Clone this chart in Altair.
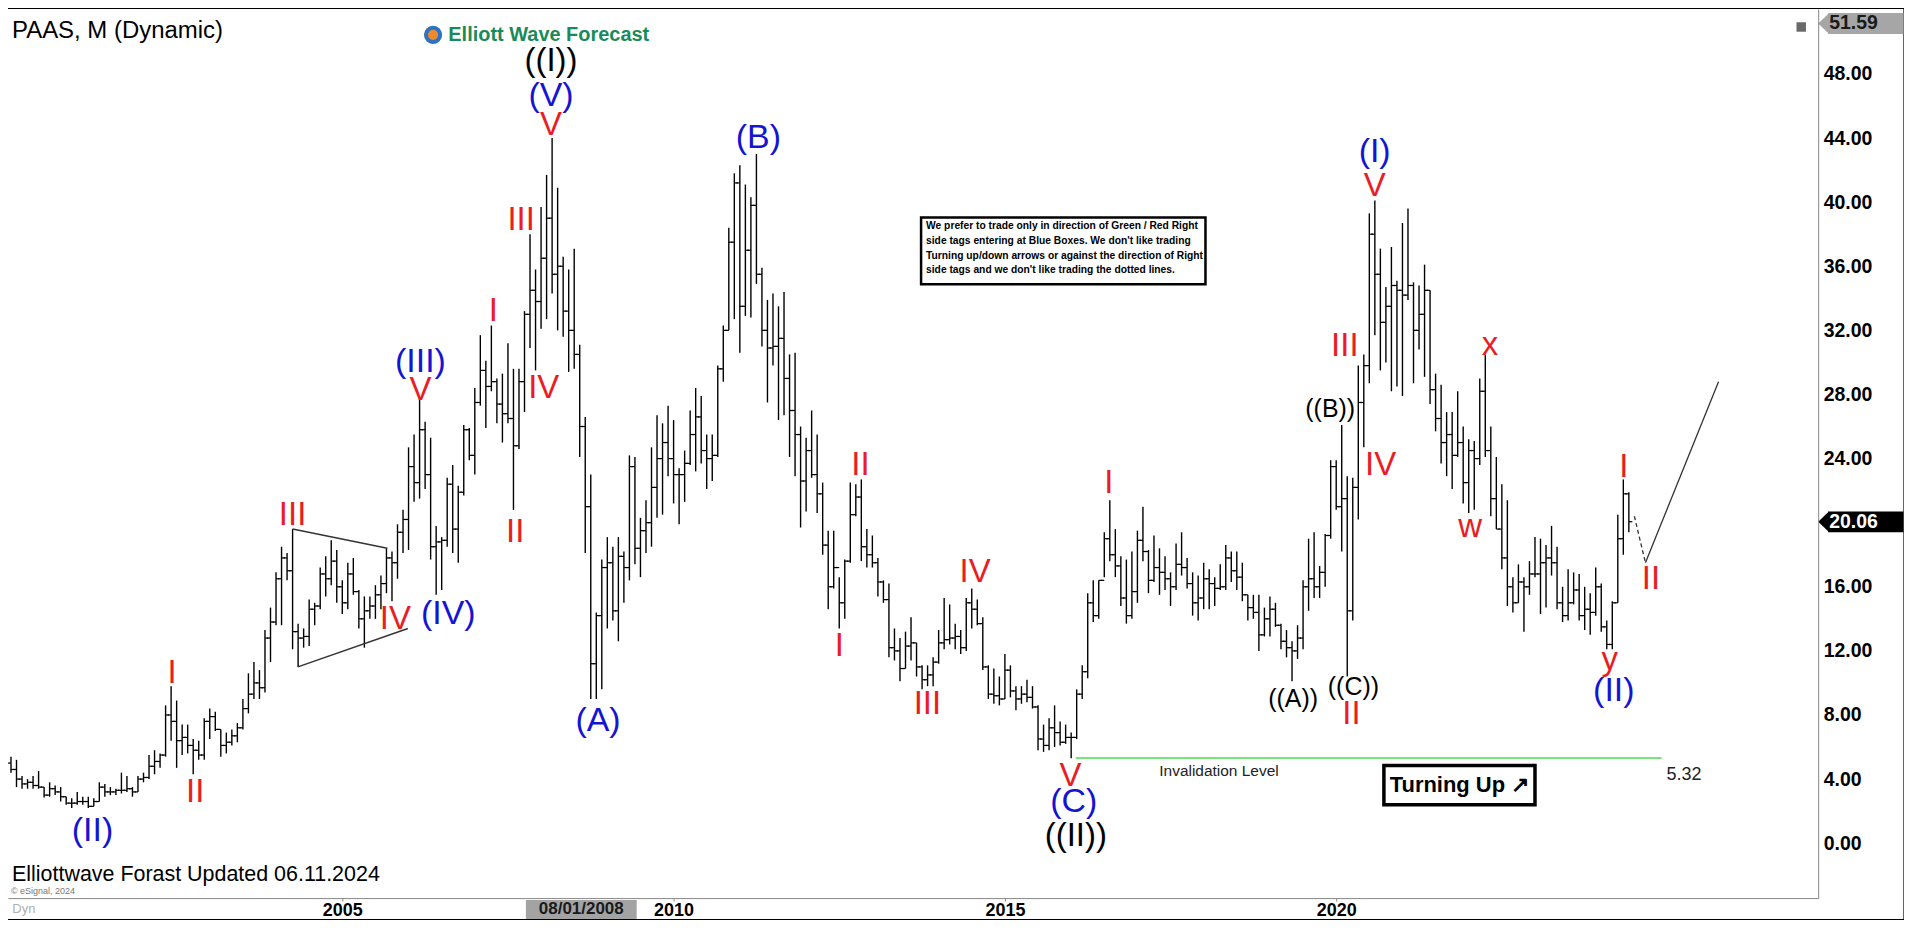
import altair as alt
import pandas as pd

# ---------------- monthly OHLC of PAAS, Jan 2000 .. Jun 2024 ----------------
high = [
    5.4, 5.2, 4.2, 4.0, 4.2, 4.5, 3.5, 3.8, 3.6, 3.5, 2.9, 2.8,            # 2000
    3.2, 2.9, 2.9, 2.8, 3.8, 3.7, 3.5, 3.4, 4.4, 4.2, 3.5, 4.2,            # 2001
    4.4, 5.5, 5.8, 5.6, 8.6, 9.8, 8.9, 7.4, 7.4, 6.5, 6.4, 7.8,            # 2002
    8.4, 8.2, 7.1, 6.9, 7.1, 7.5, 9.0, 10.6, 11.3, 10.8, 13.3, 14.7,       # 2003
    16.9, 18.5, 18.1, 19.6, 13.7, 13.4, 15.2, 15.0, 17.2, 17.9, 18.9, 18.3,  # 2004
    16.4, 17.5, 17.8, 15.8, 15.4, 15.4, 16.1, 16.7, 18.4, 18.2, 19.9, 20.8,  # 2005
    24.7, 25.5, 27.7, 26.3, 25.3, 19.8, 19.1, 22.8, 23.6, 22.3, 26.1, 25.9,  # 2006
    28.4, 31.7, 30.1, 32.3, 29.0, 29.3, 31.2, 29.6, 29.6, 33.2, 38.0, 35.8,  # 2007
    39.7, 41.7, 44.0, 40.9, 36.6, 35.8, 37.1, 31.1, 26.6, 23.0, 14.4, 17.7,  # 2008
    19.1, 18.5, 19.1, 18.2, 24.2, 24.1, 20.3, 21.4, 24.7, 26.7, 26.2, 27.3,  # 2009
    26.4, 23.4, 24.5, 27.0, 28.4, 27.9, 25.5, 25.5, 29.8, 32.3, 38.4, 41.8,  # 2010
    42.3, 41.1, 40.3, 43.0, 35.9, 33.9, 34.3, 33.5, 34.4, 30.5, 30.6, 26.0,  # 2011
    25.3, 27.0, 25.5, 22.5, 19.5, 19.5, 16.6, 17.7, 22.5, 22.4, 22.7, 19.6,  # 2012
    19.2, 17.8, 16.4, 16.2, 13.4, 12.8, 13.2, 14.1, 12.5, 11.1, 11.1, 11.6,  # 2013
    13.3, 15.3, 14.9, 13.7, 13.3, 15.3, 15.9, 15.2, 14.1, 11.1, 10.9, 10.4,  # 2014
    11.8, 11.1, 9.8, 9.8, 10.2, 9.8, 8.6, 7.4, 7.8, 8.6, 7.6, 7.4,          # 2015
    6.9, 9.6, 11.1, 15.6, 16.4, 16.4, 19.4, 21.4, 19.6, 17.9, 17.7, 18.2,   # 2016
    19.5, 21.0, 18.3, 19.2, 18.4, 17.9, 16.9, 18.7, 19.4, 17.8, 16.9, 16.7,  # 2017
    17.5, 17.1, 16.6, 17.4, 18.6, 18.2, 18.2, 17.5, 15.5, 15.5, 15.5, 14.7,  # 2018
    15.4, 15.0, 13.7, 13.3, 12.6, 13.6, 16.4, 19.0, 19.4, 17.3, 19.3, 23.9,  # 2019
    23.9, 26.1, 22.9, 22.8, 29.8, 30.5, 39.3, 40.1, 37.1, 34.7, 37.2, 35.1,  # 2020
    38.7, 39.6, 35.0, 34.8, 36.1, 34.5, 29.3, 28.6, 26.9, 26.9, 28.2, 26.0,  # 2021
    25.2, 25.1, 29.0, 30.5, 26.0, 24.1, 22.4, 21.4, 16.6, 17.4, 16.6, 17.6,  # 2022
    19.1, 19.0, 18.6, 19.8, 18.5, 16.0, 17.1, 16.9, 16.8, 16.0, 15.6, 17.2,  # 2023
    16.2, 13.9, 15.1, 20.5, 22.7, 21.9,                                      # 2024
]
low = [
    4.4, 3.5, 3.4, 3.4, 3.4, 3.4, 2.85, 2.9, 3.0, 2.6, 2.4, 2.2,
    2.4, 2.4, 2.2, 2.3, 2.6, 2.9, 3.0, 3.0, 3.1, 3.2, 2.9, 3.2,
    3.8, 4.0, 4.3, 4.7, 5.4, 6.4, 4.7, 5.5, 5.6, 4.3, 5.2, 5.2,
    6.5, 7.0, 5.4, 5.6, 6.1, 6.3, 7.1, 8.1, 9.0, 9.0, 9.4, 11.3,
    13.6, 13.6, 16.4, 12.1, 11.0, 12.2, 12.3, 13.6, 14.6, 15.4, 16.1, 15.0,
    14.3, 14.6, 15.5, 13.4, 12.2, 14.0, 14.0, 14.6, 15.6, 15.1, 16.5, 18.1,
    18.3, 21.3, 21.5, 22.1, 17.7, 15.5, 15.8, 18.5, 18.1, 17.5, 21.7, 23.9,
    23.0, 27.3, 25.9, 28.2, 26.2, 25.0, 26.2, 20.8, 24.6, 26.9, 30.9, 29.5,
    32.1, 32.7, 34.3, 32.0, 31.6, 29.4, 29.6, 24.1, 18.1, 9.0, 9.0, 9.6,
    13.4, 13.9, 12.6, 15.0, 16.4, 17.4, 16.6, 18.1, 18.5, 20.3, 20.5, 22.9,
    21.2, 19.9, 21.3, 23.6, 23.2, 23.7, 22.1, 22.6, 24.1, 28.8, 32.0, 32.7,
    30.6, 32.9, 32.8, 34.9, 31.0, 27.5, 29.8, 26.4, 26.7, 24.1, 22.9, 19.7,
    20.7, 22.8, 20.6, 18.0, 14.6, 15.9, 13.4, 14.0, 17.5, 20.4, 17.6, 17.2,
    17.2, 15.4, 15.0, 11.6, 11.4, 10.1, 10.9, 11.4, 10.4, 9.6, 9.8, 9.8,
    11.2, 12.1, 12.4, 12.1, 11.8, 12.0, 13.4, 13.6, 10.8, 9.0, 8.7, 8.6,
    9.0, 9.1, 8.3, 8.7, 8.8, 8.4, 5.8, 5.7, 5.8, 6.0, 6.1, 6.2,
    5.3, 6.5, 9.0, 10.3, 13.8, 14.0, 16.6, 17.6, 16.6, 14.8, 13.7, 14.0,
    15.0, 17.6, 15.6, 16.3, 15.5, 15.8, 14.8, 15.8, 16.7, 15.9, 14.2, 13.9,
    14.6, 14.6, 14.8, 15.8, 15.8, 16.3, 15.8, 15.1, 13.9, 14.0, 12.0, 12.9,
    12.9, 13.5, 12.1, 11.6, 10.1, 11.5, 12.1, 14.5, 15.3, 15.3, 16.0, 19.0,
    20.8, 18.2, 10.4, 13.9, 20.2, 24.7, 28.7, 31.7, 29.5, 30.0, 28.2, 28.5,
    27.9, 33.9, 28.7, 30.8, 29.1, 27.4, 25.7, 23.7, 22.9, 22.1, 24.1, 21.2,
    20.6, 20.8, 23.6, 24.1, 20.4, 19.6, 17.1, 14.8, 14.4, 15.0, 13.2, 15.5,
    16.6, 14.3, 14.7, 16.7, 14.6, 13.8, 13.9, 14.9, 13.9, 13.3, 13.0, 14.2,
    13.2, 12.1, 12.1, 15.0, 18.0, 19.4,
]
close = [
    4.6, 4.0, 3.7, 3.8, 3.6, 3.5, 3.0, 3.4, 3.2, 2.9, 2.5, 2.5,
    2.6, 2.6, 2.3, 2.6, 3.5, 3.2, 3.2, 3.3, 3.3, 3.4, 3.2, 4.0,
    4.1, 4.8, 5.1, 5.5, 8.0, 7.6, 6.4, 6.6, 6.1, 5.8, 5.5, 7.6,
    7.9, 7.1, 6.1, 6.3, 6.7, 7.2, 8.4, 9.3, 10.0, 9.7, 12.8, 13.8,
    16.5, 17.8, 17.0, 13.2, 12.8, 12.9, 14.6, 14.8, 16.8, 16.5, 17.6, 16.0,
    15.0, 16.8, 15.7, 14.0, 14.5, 14.8, 15.5, 16.2, 17.8, 17.5, 19.4, 20.2,
    23.5, 22.5, 25.8, 23.0, 18.5, 18.8, 18.9, 22.4, 19.6, 21.9, 25.8, 24.2,
    27.5, 29.5, 28.5, 28.8, 27.4, 26.8, 26.5, 24.8, 28.8, 33.0, 34.5, 33.8,
    36.5, 39.0, 35.5, 36.0, 33.2, 32.0, 30.5, 26.0, 21.0, 11.2, 14.2, 17.2,
    17.5, 14.5, 17.9, 17.2, 23.5, 18.4, 19.5, 20.0, 22.2, 24.0, 25.0, 24.0,
    23.0, 23.0, 23.7, 25.5, 26.6, 24.5, 24.0, 24.2, 29.6, 32.0, 37.5, 41.2,
    33.5, 37.0, 39.8, 35.5, 32.0, 30.9, 31.0, 31.5, 29.0, 27.0, 25.5, 22.6,
    24.5, 23.0, 21.8, 18.6, 16.0, 17.2, 15.0, 17.6, 20.5, 21.6, 18.5, 18.0,
    17.5, 16.3, 15.2, 12.2, 12.0, 10.9, 12.3, 12.5, 11.0, 10.2, 10.5, 11.3,
    12.5, 12.7, 12.8, 12.9, 12.2, 15.0, 14.6, 13.7, 11.0, 9.3, 9.2, 9.0,
    10.8, 9.5, 9.0, 9.3, 9.1, 8.5, 6.5, 6.1, 7.2, 6.9, 6.3, 6.6,
    6.6, 9.3, 10.7, 15.0, 14.2, 16.4, 19.0, 18.0, 17.3, 15.3, 14.2, 15.7,
    18.9, 18.2, 16.4, 17.2, 16.9, 16.5, 16.0, 17.4, 17.2, 16.2, 15.0, 15.3,
    16.5, 16.2, 15.9, 16.0, 17.8, 17.0, 16.6, 15.5, 14.7, 14.4, 13.0, 14.0,
    14.6, 13.6, 12.6, 12.2, 12.0, 12.8, 16.0, 16.5, 16.0, 16.9, 19.2, 23.5,
    21.0, 21.5, 14.5, 22.2, 27.5, 29.8, 38.0, 35.5, 32.5, 33.5, 34.8, 34.5,
    34.2, 34.8, 32.0, 33.0, 34.5, 28.3, 26.5, 25.0, 25.5, 24.2, 25.0, 22.5,
    24.5, 24.0, 28.2, 24.5, 21.5, 19.6, 17.8, 16.0, 15.0, 16.3, 16.0, 16.8,
    16.8, 17.5, 17.8, 17.5, 15.0, 14.2, 15.0, 15.8, 14.2, 14.6, 14.4, 16.0,
    13.5, 12.4, 15.0, 19.0, 21.8, 20.06,
]
first_open = 5.0

months = pd.period_range("2000-01", periods=len(high), freq="M")
bars = pd.DataFrame({
    "t": (months.year + (months.month - 1) / 12.0).to_numpy(),
    "high": high, "low": low, "close": close,
    "open": [first_open] + close[:-1],
})

# ---------------- wave labels ----------------
wave_text = ["((I))", "(V)", "V", "III", "I", "IV", "II", "(III)", "V", "III", "IV", "(IV)",
             "I", "II", "(II)", "(A)", "(B)", "II", "I", "III", "IV", "V", "(C)", "((II))",
             "I", "((A))", "((C))", "II", "((B))", "III", "IV", "(I)", "V", "x", "w", "y",
             "(II)", "I", "II"]
wave_t = [2008.15, 2008.15, 2008.15, 2007.70, 2007.28, 2008.04, 2007.61, 2006.18, 2006.18,
          2004.25, 2005.80, 2006.60, 2002.43, 2002.78, 2001.23, 2008.86, 2011.28, 2012.82,
          2012.50, 2013.83, 2014.55, 2015.99, 2016.04, 2016.07, 2016.57, 2019.35, 2020.26,
          2020.23, 2019.91, 2020.13, 2020.67, 2020.58, 2020.58, 2022.32, 2022.02, 2024.13,
          2024.19, 2024.34, 2024.75]
wave_p = [48.8, 46.6, 44.8, 38.9, 33.2, 28.4, 19.4, 30.0, 28.3, 20.5, 14.0, 14.3, 10.6, 3.2,
          0.75, 7.6, 44.0, 23.6, 12.3, 8.7, 16.9, 4.2, 2.6, 0.44, 22.5, 9.0, 9.75, 8.05, 27.1,
          31.0, 23.6, 43.1, 41.0, 31.1, 19.7, 11.4, 9.5, 23.5, 16.5]
wave_deg = ["primary", "intermediate", "minor", "minor", "minor", "minor", "minor",
            "intermediate", "minor", "minor", "minor", "intermediate", "minor", "minor",
            "intermediate", "intermediate", "intermediate", "minor", "minor", "minor", "minor",
            "minor", "intermediate", "primary", "minor", "minute", "minute", "minor", "minute",
            "minor", "minor", "intermediate", "minor", "minor", "minor", "minor",
            "intermediate", "minor", "minor"]
deg_color = {"primary": "#000000", "intermediate": "#1414d2", "minor": "#ea1c24", "minute": "#000000"}
deg_size = {"primary": 33, "intermediate": 34, "minor": 33, "minute": 25}
waves = pd.DataFrame({"text": wave_text, "t": wave_t, "p": wave_p})
waves["color"] = [deg_color[d] for d in wave_deg]
waves["size"] = [deg_size[d] for d in wave_deg]

# ---------------- line annotations (start/end in time & price) ----------------
tri = pd.DataFrame({"t1": [2004.25, 2004.33], "p1": [19.6, 11.0],
                    "t2": [2005.68, 2005.99], "p2": [18.4, 13.4]})
proj_dash = pd.DataFrame({"t1": [2024.50], "p1": [20.4], "t2": [2024.667], "p2": [17.5]})
proj_solid = pd.DataFrame({"t1": [2024.667], "p1": [17.5], "t2": [2025.77], "p2": [28.8]})
invalidation = pd.DataFrame({"t1": [2016.07], "t2": [2024.91], "p1": [5.32], "p2": [5.32]})

# ---------------- scales / axes ----------------
T0, T1 = 1999.955, 2027.274
P0, P1 = -3.425, 52.055
xs = alt.Scale(domain=[T0, T1], nice=False, zero=False)
ys = alt.Scale(domain=[P0, P1], nice=False, zero=False)

price_ticks = [0, 4, 8, 12, 16, 24, 28, 32, 36, 40, 44, 48]   # 20.00 sits under the last-price tag
x_axis = alt.Axis(orient="bottom", values=[2005, 2010, 2015, 2020], format="d", title=None,
                  grid=False, labelFont="Liberation Sans", labelFontWeight="bold",
                  labelFontSize=18, labelColor="black", tickColor="#888", tickSize=3,
                  domainColor="#888", labelPadding=0, zindex=1)
y_axis = alt.Axis(orient="right", values=price_ticks, format=".2f", title=None,
                  grid=False, labelFont="Liberation Sans", labelFontWeight="bold",
                  labelFontSize=19.5, labelColor="black", ticks=False,
                  domainColor="#888", labelPadding=5, zindex=1)


def X(f):
    return alt.X(f, scale=xs, axis=x_axis)


def Y(f):
    return alt.Y(f, scale=ys, axis=y_axis)


panel = alt.Chart(pd.DataFrame({"t1": [T0], "t2": [2028.56], "p1": [-4.73], "p2": [P1]})
                  ).mark_rect(color="white").encode(x=X("t1:Q"), x2="t2:Q", y=Y("p1:Q"), y2="p2:Q")

hl = alt.Chart(bars).mark_rule(color="black", strokeWidth=1.4).encode(
    x=X("t:Q"), y=Y("low:Q"), y2="high:Q")
op = alt.Chart(bars).mark_rule(color="black", strokeWidth=1.2, xOffset=-3.5).encode(
    x=X("t:Q"), x2="t:Q", y=Y("open:Q"))
cl = alt.Chart(bars).mark_rule(color="black", strokeWidth=1.2, x2Offset=3.5).encode(
    x=X("t:Q"), x2="t:Q", y=Y("close:Q"))


def seg(df, **kw):
    return alt.Chart(df).mark_rule(**kw).encode(x=X("t1:Q"), x2="t2:Q", y=Y("p1:Q"), y2="p2:Q")


tri_l = seg(tri, color="#333333", strokeWidth=1.5)
dash_l = seg(proj_dash, color="#333333", strokeWidth=1.3, strokeDash=[4, 3])
solid_l = seg(proj_solid, color="#333333", strokeWidth=1.3)
green_l = seg(invalidation, color="#4cdc4c", strokeWidth=1.6)

wave_lbl = alt.Chart(waves).mark_text(font="Liberation Sans", align="center", baseline="middle").encode(
    x=X("t:Q"), y=Y("p:Q"), text="text:N",
    color=alt.Color("color:N", scale=None), size=alt.Size("size:Q", scale=None))


def txt(text, t, p, **kw):
    return alt.Chart(pd.DataFrame({"text": [text], "t": [t], "p": [p]})).mark_text(**kw).encode(
        x=X("t:Q"), y=Y("p:Q"), text="text:N")


def box(t1, t2, p1, p2, **kw):
    return alt.Chart(pd.DataFrame({"t1": [t1], "t2": [t2], "p1": [p1], "p2": [p2]})).mark_rect(**kw).encode(
        x=X("t1:Q"), x2="t2:Q", y=Y("p1:Q"), y2="p2:Q")


def pt(t, p, **kw):
    return alt.Chart(pd.DataFrame({"t": [t], "p": [p]})).mark_point(**kw).encode(x=X("t:Q"), y=Y("p:Q"))


title = txt("PAAS, M (Dynamic)", 2000.015, 50.69, font="Liberation Sans", fontSize=24,
            align="left", baseline="middle", color="black")
logo_c = pt(2006.37, 50.44, shape="circle", filled=True, color="#f0892a", size=320, opacity=1)
logo_r = pt(2006.37, 50.44, shape="circle", filled=False, color="#2a74c6", size=200,
            strokeWidth=4, opacity=1)
logo_t = txt("Elliott Wave Forecast", 2006.60, 50.44, font="Liberation Sans", fontSize=20,
             fontWeight="bold", align="left", baseline="middle", color="#1b8a5a")
foot = txt("Elliottwave Forast Updated 06.11.2024", 2000.015, -2.0, font="Liberation Sans",
           fontSize=21.5, align="left", baseline="middle", color="black")
esig = txt("© eSignal, 2024", 2000.0, -3.0, font="Liberation Sans", fontSize=9,
           align="left", baseline="middle", color="#777777")
dyn = txt("Dyn", 2000.02, -4.1, font="Liberation Sans", fontSize=13, align="left",
          baseline="middle", color="#b0b0b0")

inval_t = txt("Invalidation Level", 2017.33, 4.5, font="Liberation Sans", fontSize=15.5,
              align="left", baseline="middle", color="#222222")
inval_v = txt("5.32", 2024.985, 4.26, font="Liberation Sans", fontSize=18, align="left",
              baseline="middle", color="#222222")

turn_b = box(2020.72, 2023.0, 2.4, 4.85, fill="white", stroke="black", strokeWidth=3.5)
turn_t = txt("Turning Up ↗", 2021.86, 3.62, font="Liberation Sans", fontSize=22, fontWeight="bold",
             align="center", baseline="middle", color="black")

note_lines = ("We prefer to trade only in direction of Green / Red Right\n"
              "side tags entering at Blue Boxes. We don't like trading\n"
              "Turning up/down arrows or against the direction of Right\n"
              "side tags and we don't like trading the dotted lines.")
note_b = box(2013.735, 2018.027, 34.87, 39.04, fill="white", stroke="black", strokeWidth=2.5)
note_t = txt(note_lines, 2013.81, 38.82, font="Liberation Sans", fontSize=10.3, fontWeight="bold",
             align="left", baseline="top", lineBreak="\n", lineHeight=14.8, color="black")

date_b = box(2007.771, 2009.443, -4.73, -3.55, fill="#a3a3a3")
date_t = txt("08/01/2008", 2008.607, -4.12, font="Liberation Sans", fontSize=17, fontWeight="bold",
             align="center", baseline="middle", color="#1a1a1a")

tag_shape = "M -1 0 L 1 -1.9 L 1 1.9 Z"
top_b = box(2027.425, 2028.56, 50.50, 51.80, fill="#a6a6a6")
top_a = pt(2027.357, 51.15, shape=tag_shape, filled=True, color="#a6a6a6", size=121, opacity=1,
           strokeWidth=0)
top_t = txt("51.59", 2027.44, 51.15, font="Liberation Sans", fontSize=19.5, fontWeight="bold",
            align="left", baseline="middle", color="#1a1a1a")
last_b = box(2027.425, 2028.56, 19.40, 20.70, fill="black")
last_a = pt(2027.357, 20.06, shape=tag_shape, filled=True, color="black", size=121, opacity=1,
            strokeWidth=0)
last_t = txt("20.06", 2027.44, 20.06, font="Liberation Sans", fontSize=19.5, fontWeight="bold",
             align="left", baseline="middle", color="white")
icon = pt(2027.018, 50.93, shape="square", filled=True, color="#6a6a6a", size=90, opacity=1)

chart = alt.layer(
    panel, hl, op, cl, tri_l, green_l, dash_l, solid_l,
    note_b, note_t, turn_b, turn_t, inval_t, inval_v,
    wave_lbl, title, logo_c, logo_r, logo_t, foot, esig, dyn,
    date_b, date_t, top_b, top_a, top_t, last_b, last_a, last_t, icon,
).properties(
    width=1814, height=891,
    padding={"left": 0, "top": 0, "right": 86, "bottom": 21},
    autosize=alt.AutoSizeParams(type="none"),
    background="black",
).configure_view(stroke=None)

chart.save("out.html", embed_options={"renderer": "svg", "actions": False})
